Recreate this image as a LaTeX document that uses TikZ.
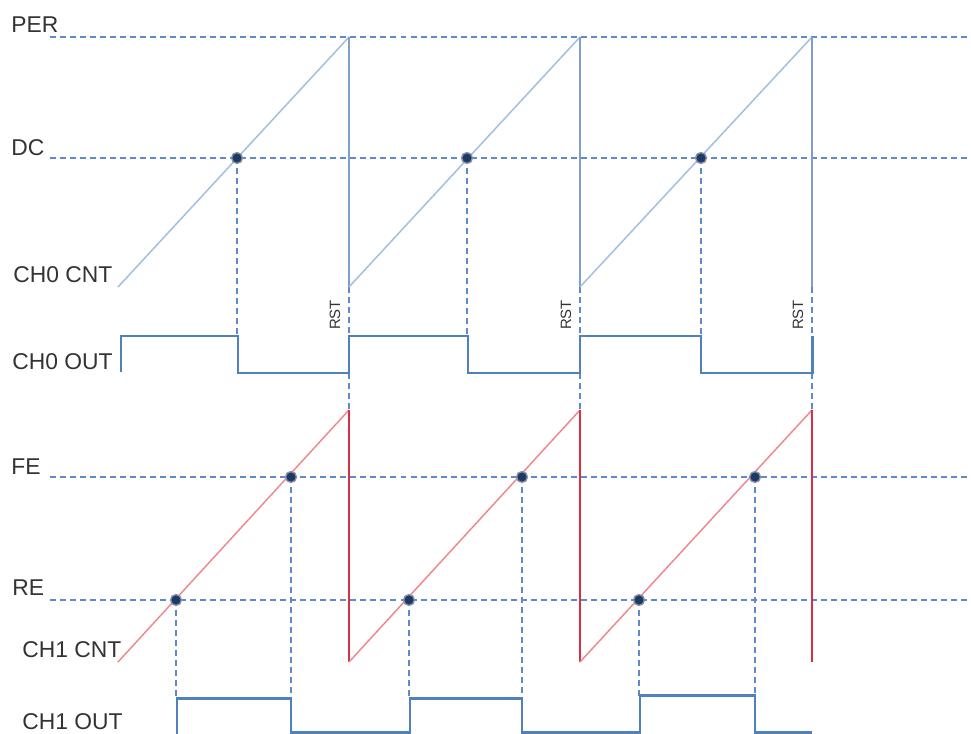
\documentclass[tikz,border=0pt]{standalone}
\usepackage{fontspec}
\setmainfont{Liberation Sans}
\usepackage{xcolor}
\usepackage{tikz}
\usetikzlibrary{positioning}
\definecolor{cntblue}{HTML}{A3BEE0}
\definecolor{rstblue}{HTML}{7E9FCE}
\definecolor{guideblue}{HTML}{5E8ACB}
\definecolor{outblue}{HTML}{4F81BD}
\definecolor{dotnavy}{HTML}{1F3A62}
\definecolor{cntred}{HTML}{EF8890}
\definecolor{rstred}{HTML}{D63048}
\definecolor{labelgray}{HTML}{333333}
\tikzset{
  guide/.style={draw=guideblue, line width=1.05pt, dash pattern=on 3.4pt off 2.3pt},
  ramp0/.style={draw=cntblue, line width=0.85pt},
  reset0/.style={draw=rstblue, line width=0.95pt},
  ramp1/.style={draw=cntred, line width=0.85pt},
  reset1/.style={draw=rstred, line width=0.95pt},
  outline/.style={draw=outblue, line width=1.7pt},
  dot/.style={circle, fill=dotnavy, draw=dotnavy!55, line width=0.8pt, inner sep=0pt, minimum size=6.2pt},
  siglabel/.style={anchor=base west, inner sep=0pt, text=labelgray, font=\fontsize{13}{15}\selectfont},
  rstlabel/.style={rotate=90, inner sep=0pt, text=labelgray, font=\fontsize{8.5}{10}\selectfont}
}

\begin{document}
\begin{tikzpicture}[x=0.02cm, y=-0.02cm]
  \useasboundingbox (0,0) rectangle (971,734);

  % compare levels
  \draw[guide] (50,37) -- (971,37);
  \draw[guide] (50,158) -- (971,158);
  \draw[guide] (50,477) -- (971,477);
  \draw[guide] (50,600) -- (971,600);

  \node[siglabel] (per) at (11,32) {PER};
  \node[siglabel] (dc) at (11,155) {DC};
  \node[siglabel] (cnt0) at (13,282) {CH0 CNT};
  \node[siglabel] (out0) at (12,369) {CH0 OUT};
  \node[siglabel] (fe) at (11,474) {FE};
  \node[siglabel] (re) at (12,595) {RE};
  \node[siglabel] (cnt1) at (22,657) {CH1 CNT};
  \node[siglabel] (out1) at (22,729) {CH1 OUT};

  % one pass per period
  \foreach \s/\e/\d/\f/\r [count=\i] in {118/349/237/291/176, 349/580/467/522/409, 580/812/701/755/639} {
    \draw[guide] (\d,158) -- (\d,336);
    \draw[guide] (\f,477) -- (\f,698);
    \draw[guide] (\r,600) -- (\r,698);
    \draw[guide] (\e,287) -- (\e,336);
    \draw[guide] (\e,373) -- (\e,410);
    \draw[ramp0] (\s,287) -- (\e,37);
    \draw[reset0] (\e,37) -- (\e,287);
    \draw[ramp1] (\s,662) -- (\e,410);
    \draw[reset1] (\e,410) -- (\e,662);
    \node[rstlabel] (rst\i) at (\e-14,315) {RST};
  }

  % outputs
  \draw[outline] (121,372) -- (121,336) -- (238,336) -- (238,373) -- (349,373) -- (349,336)
    -- (468,336) -- (468,373) -- (580,373) -- (580,336) -- (701,336) -- (701,373)
    -- (812,373) -- (812,336);
  \draw[outline] (177,734) -- (177,698) -- (291,698) -- (291,732) -- (410,732) -- (410,698)
    -- (522,698) -- (522,732) -- (640,732) -- (640,695) -- (755,695) -- (755,732) -- (812,732);

  % match points
  \foreach \d/\f/\r [count=\i] in {237/291/176, 467/522/409, 701/755/639} {
    \node[dot] (dcm\i) at (\d,158) {};
    \node[dot] (fem\i) at (\f,477) {};
    \node[dot] (rem\i) at (\r,600) {};
  }
\end{tikzpicture}
\end{document}
